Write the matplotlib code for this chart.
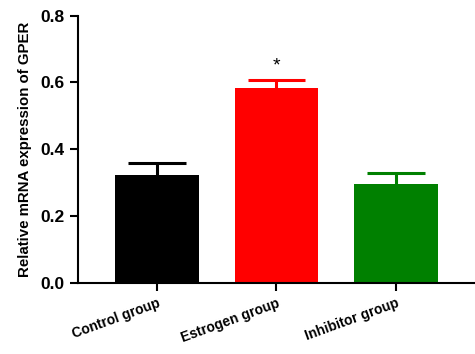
import matplotlib
matplotlib.use("Agg")
import matplotlib.pyplot as plt

categories = ["Control group", "Estrogen group", "Inhibitor group"]
values = [0.324, 0.583, 0.296]
errors = [0.034, 0.025, 0.033]
colors = ["#000000", "#ff0000", "#008000"]
yticks = [0.0, 0.2, 0.4, 0.6, 0.8]

plt.rcParams['font.family'] = ['Liberation Sans', 'DejaVu Sans']
fig = plt.figure(figsize=(4.75, 3.54), dpi=100)
ax = fig.add_axes([0.164, 0.2, 0.836, 0.756])
x = list(range(len(categories)))
ax.bar(x, values, width=0.7, color=colors, zorder=2)
capw = 0.24
for i, (v, e, c) in enumerate(zip(values, errors, colors)):
    ax.vlines(i, v, v + e, color=c, linewidth=2.2, zorder=1)
    ax.hlines(v + e, i - capw, i + capw, color=c, linewidth=2.2, zorder=1)
ax.text(1, values[1] + errors[1] + 0.04, "*", ha='center', va='center',
        fontsize=14)
ax.set_xlim(-0.66, 2.66)
ax.set_ylim(0, 0.8)
ax.set_yticks(yticks)
ax.set_yticklabels([f"{t:.1f}" for t in yticks], fontsize=12.5, fontweight='bold')
ax.set_xticks(x)
ax.set_xticklabels(categories, rotation=20, ha='right', rotation_mode='anchor',
                   fontsize=10, fontweight='bold')
ax.set_ylabel("Relative mRNA expression of GPER", fontsize=10.8, fontweight='bold',
              labelpad=6)
for s in ['top', 'right']:
    ax.spines[s].set_visible(False)
for s in ['left', 'bottom']:
    ax.spines[s].set_linewidth(1.5)
ax.tick_params(axis='both', width=1.5, length=6)
fig.savefig("out.png", dpi=100)
